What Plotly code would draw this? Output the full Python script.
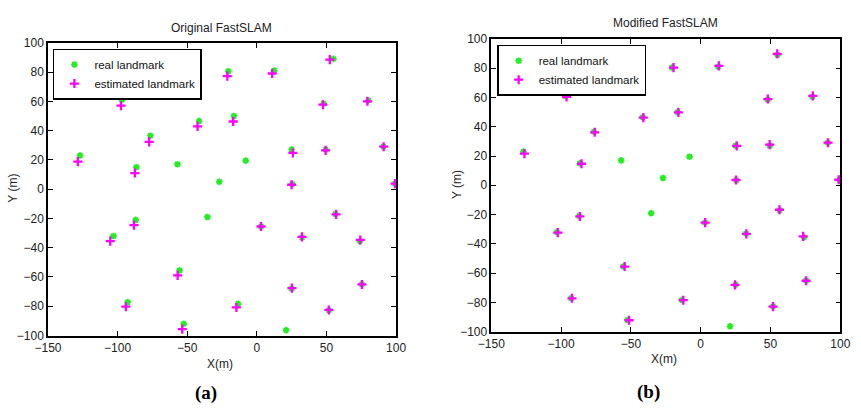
import plotly.graph_objects as go

# Real landmarks (same in both panels)
real_x = [-127, -97, -86.5, -76.5, -57, -41.5, -27, -20.5, -16.5, -8, 12.5, 25, 25.5, 48, 55, 49.5, 80, 91, 99.3,
          -103, -87, -35.5, 3, 56.5, 32.5, 74, -55.5, 25, 75.5, -92.8, -13.5, 51.8, -52.5, 21]
real_y = [23, 61, 15, 36.5, 17, 46.5, 5, 80.5, 50, 19.5, 81, 27, 3.5, 58.5, 89, 27, 60.5, 29, 3.8,
          -32, -21, -19, -25.5, -17, -33, -35.5, -55.5, -68, -65, -77.2, -78.3, -82.7, -92, -96.3]

# Estimated landmarks - Original FastSLAM
orig_x = [-128.6, -97.6, -87.6, -77.4, -42.6, -21.2, -17, 11, 25.9, 25, 47.5, 52.4, 49.4, 79.4, 91.1, 99.3,
          -105.3, -88.3, 3, 56.9, 32.4, 74.3, -56.9, 25.2, 75.5, -94.1, -14.7, 51.7, -53.6]
orig_y = [18.8, 57, 11, 32.3, 42.9, 77.2, 46.2, 79, 24.8, 3, 57.7, 88.5, 26.5, 60, 29, 3.8,
          -35.5, -24.6, -25.5, -17.2, -32.6, -34.7, -58.9, -67.6, -65.1, -80.3, -80.8, -82.5, -95.6]

# Estimated landmarks - Modified FastSLAM
mod_x = [-126.3, -96.1, -85.4, -75.9, -41.1, -19.5, -16, 13, 25.8, 25.3, 48.1, 54.8, 49.4, 80.3, 91.2, 98.9,
         -102.4, -86.6, 3.2, 56.4, 32.7, 73.4, -54.5, 24.6, 75.5, -92.2, -12.5, 51.8, -51.3]
mod_y = [21.6, 60.4, 14.7, 36.2, 46.2, 80.4, 49.8, 81.6, 26.9, 3.6, 58.9, 89.8, 27.8, 61.1, 29.1, 3.8,
         -32.3, -21.3, -25.5, -16.7, -33.2, -34.9, -55.5, -68, -65.2, -77.2, -78.5, -82.9, -92.2]

x_ticks = [-150, -100, -50, 0, 50, 100]
y_ticks = [-100, -80, -60, -40, -20, 0, 20, 40, 60, 80, 100]

W, H = 861, 416
GREEN = "#22ee22"
MAG = "#ff00ff"
FONT = "Liberation Sans, Arial, sans-serif"

fig = go.Figure()

def add_panel(ex, ey, xa, ya, leg):
    fig.add_trace(go.Scatter(x=real_x, y=real_y, mode="markers", name="real landmark",
                             xaxis=xa, yaxis=ya, legend=leg,
                             marker=dict(symbol="asterisk-open", size=5.5, color=GREEN,
                                         line=dict(color=GREEN, width=1.8))))
    fig.add_trace(go.Scatter(x=ex, y=ey, mode="markers", name="estimated landmark",
                             xaxis=xa, yaxis=ya, legend=leg,
                             marker=dict(symbol="cross-thin-open", size=6.5, color=MAG,
                                         line=dict(color=MAG, width=2.3))))

add_panel(orig_x, orig_y, "x", "y", "legend")
add_panel(mod_x, mod_y, "x2", "y2", "legend2")

def px(v):
    return v / W

def py(v):
    return 1 - v / H

axis_common = dict(showgrid=False, zeroline=False, showline=True, linecolor="black", linewidth=1.5,
                   mirror="ticks", ticks="inside", ticklen=5, tickwidth=1, tickcolor="black",
                   tickfont=dict(family=FONT, size=12, color="#222"))

fig.update_layout(
    width=W, height=H, margin=dict(l=0, r=0, t=0, b=0),
    paper_bgcolor="white", plot_bgcolor="white",
    xaxis=dict(domain=[px(35), px(393)], range=[-150, 100], tickvals=x_ticks, anchor="y", **axis_common),
    yaxis=dict(domain=[py(340), py(37)], range=[-100, 100], tickvals=y_ticks, anchor="x", **axis_common),
    xaxis2=dict(domain=[px(491), px(850)], range=[-150, 100], tickvals=x_ticks, anchor="y2", **axis_common),
    yaxis2=dict(domain=[py(336), py(33)], range=[-100, 100], tickvals=y_ticks, anchor="x2", **axis_common),
    legend=dict(x=px(40), y=py(43), xanchor="left", yanchor="top", bordercolor="black", borderwidth=1.5,
                bgcolor="white", font=dict(family=FONT, size=11.5, color="#111"), tracegroupgap=0),
    legend2=dict(x=px(497), y=py(39), xanchor="left", yanchor="top", bordercolor="black", borderwidth=1.5,
                 bgcolor="white", font=dict(family=FONT, size=11.5, color="#111"), tracegroupgap=0),
    showlegend=True,
)

ann_font = dict(family=FONT, size=12, color="#222")
anns = [
    dict(text="Original FastSLAM", x=px(213), y=py(22)),
    dict(text="Modified FastSLAM", x=px(670), y=py(17)),
    dict(text="X(m)", x=px(212), y=py(369)),
    dict(text="X(m)", x=px(669), y=py(364)),
]
for a in anns:
    fig.add_annotation(xref="paper", yref="paper", showarrow=False, xanchor="center", yanchor="middle",
                       font=ann_font, **a)
fig.add_annotation(text="Y (m)", xref="paper", yref="paper", x=px(-1), y=py(188), textangle=-90,
                   showarrow=False, xanchor="center", yanchor="middle", font=ann_font)
fig.add_annotation(text="Y (m)", xref="paper", yref="paper", x=px(455), y=py(184), textangle=-90,
                   showarrow=False, xanchor="center", yanchor="middle", font=ann_font)
lab_font = dict(family="Liberation Serif, Times New Roman, serif", size=19, color="black")
fig.add_annotation(text="<b>(a)</b>", xref="paper", yref="paper", x=px(198), y=py(399),
                   showarrow=False, xanchor="center", yanchor="middle", font=lab_font)
fig.add_annotation(text="<b>(b)</b>", xref="paper", yref="paper", x=px(653), y=py(398),
                   showarrow=False, xanchor="center", yanchor="middle", font=lab_font)

fig.write_html("out.html")
